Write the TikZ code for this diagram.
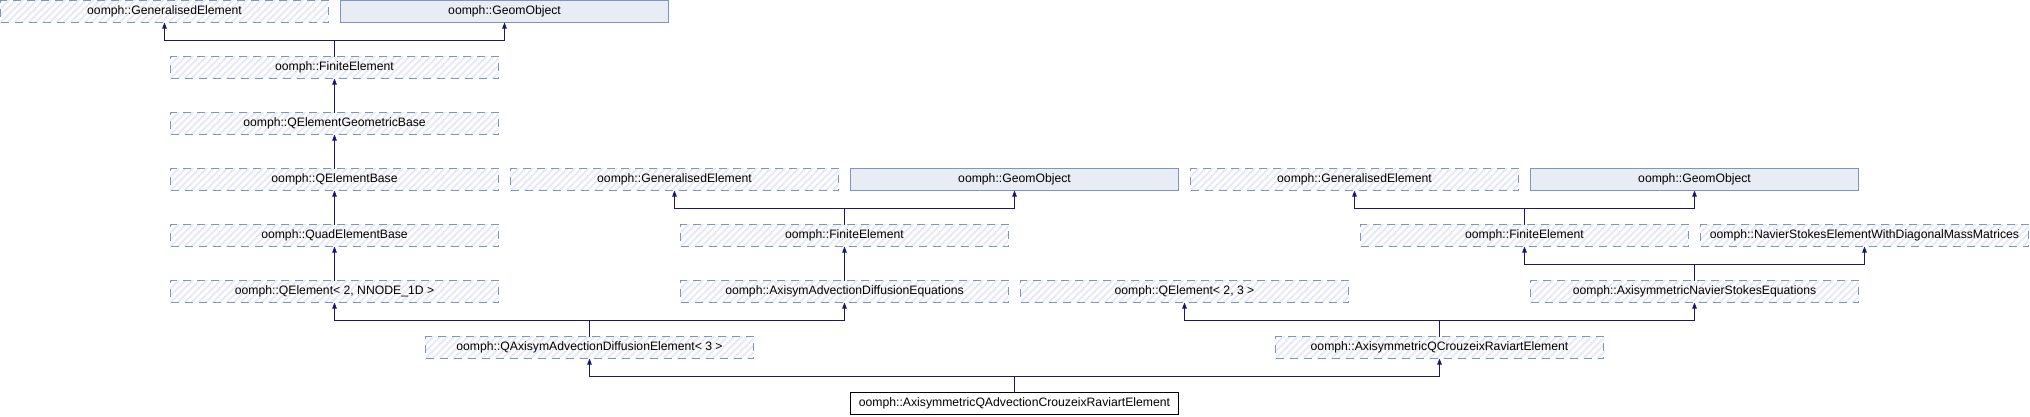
\documentclass[tikz,border=0pt]{standalone}
\usepackage{fontspec}
\setmainfont{Liberation Sans}
\usetikzlibrary{arrows.meta,
                positioning
            }
\definecolor{edgeblue}{RGB}{25,25,112}
\definecolor{boxblue}{RGB}{127,147,199}
\definecolor{hatchblue}{RGB}{229,234,245}
\definecolor{geomfill}{RGB}{232,236,245}

\begin{document}
\begin{tikzpicture}[x=1pt, y=-1pt,
        cls/.style={minimum width=328pt, minimum height=22pt, inner xsep=2pt,
            inner ysep=0pt, outer sep=0pt, line width=1pt,
            font=\fontsize{12.2pt}{14pt}\selectfont},
        hatchbox/.style={cls, draw=boxblue, dash pattern=on 8pt off 6pt,
            path picture={
                \foreach \k in {-35,-28,...,335}
                    \draw[solid, line width=2pt, hatchblue]
                        ([xshift=\k pt]path picture bounding box.south west) -- ++(32pt,32pt);
            }},
        geombox/.style={cls, draw=boxblue, fill=geomfill},
        mainbox/.style={cls, draw=black, fill=white},
        edge/.style={draw=edgeblue, line width=1pt, -{Triangle[width=4.5pt,length=6pt]}}
    ]
            \useasboundingbox (0,0) rectangle (2030,416);
            % left column
            \node[hatchbox] (ge1) at (164.5, 11.5) {oomph::GeneralisedElement};
            \node[geombox] (go1) at (504.5, 11.5) {oomph::GeomObject};
            \node[hatchbox] (fe1) at (334.5, 67.5) {oomph::FiniteElement};
            \node[hatchbox] (qegb) at (334.5, 123.5) {oomph::QElementGeometricBase};
            \node[hatchbox] (qeb) at (334.5, 179.5) {oomph::QElementBase};
            \node[hatchbox] (quadeb) at (334.5, 235.5) {oomph::QuadElementBase};
            \node[hatchbox] (qel) at (334.5, 291.5) {oomph::QElement< 2, NNODE\_1D >};
            % advection diffusion branch
            \node[hatchbox] (ge2) at (674.5, 179.5) {oomph::GeneralisedElement};
            \node[geombox] (go2) at (1014.5, 179.5) {oomph::GeomObject};
            \node[hatchbox] (fe2) at (844.5, 235.5) {oomph::FiniteElement};
            \node[hatchbox] (aade) at (844.5, 291.5) {oomph::AxisymAdvectionDiffusionEquations};
            % navier stokes branch
            \node[hatchbox] (ge3) at (1354.5, 179.5) {oomph::GeneralisedElement};
            \node[geombox] (go3) at (1694.5, 179.5) {oomph::GeomObject};
            \node[hatchbox] (fe3) at (1524.5, 235.5) {oomph::FiniteElement};
            \node[hatchbox] (nsdiag) at (1864.5, 235.5) {oomph::NavierStokesElementWithDiagonalMassMatrices};
            \node[hatchbox] (qel23) at (1184.5, 291.5) {oomph::QElement< 2, 3 >};
            \node[hatchbox] (ans) at (1694.5, 291.5) {oomph::AxisymmetricNavierStokesEquations};
            % bottom rows
            \node[hatchbox] (qaade) at (589.5, 347.5) {oomph::QAxisymAdvectionDiffusionElement< 3 >};
            \node[hatchbox] (aqcr) at (1439.5, 347.5) {oomph::AxisymmetricQCrouzeixRaviartElement};
            \node[mainbox] (aqacr) at (1014.5, 403.5) {oomph::AxisymmetricQAdvectionCrouzeixRaviartElement};
            \foreach \c/\p in {fe1/ge1, fe1/go1, qegb/fe1, qeb/qegb, quadeb/qeb, qel/quadeb,
                    fe2/ge2, fe2/go2, aade/fe2, fe3/ge3, fe3/go3, ans/fe3, ans/nsdiag,
                    qaade/qel, qaade/aade, aqcr/qel23, aqcr/ans, aqacr/qaade, aqacr/aqcr}
                \draw[edge] (\c.north) -- ++(0,-16.5) -| (\p.south);
        \end{tikzpicture}
\end{document}
